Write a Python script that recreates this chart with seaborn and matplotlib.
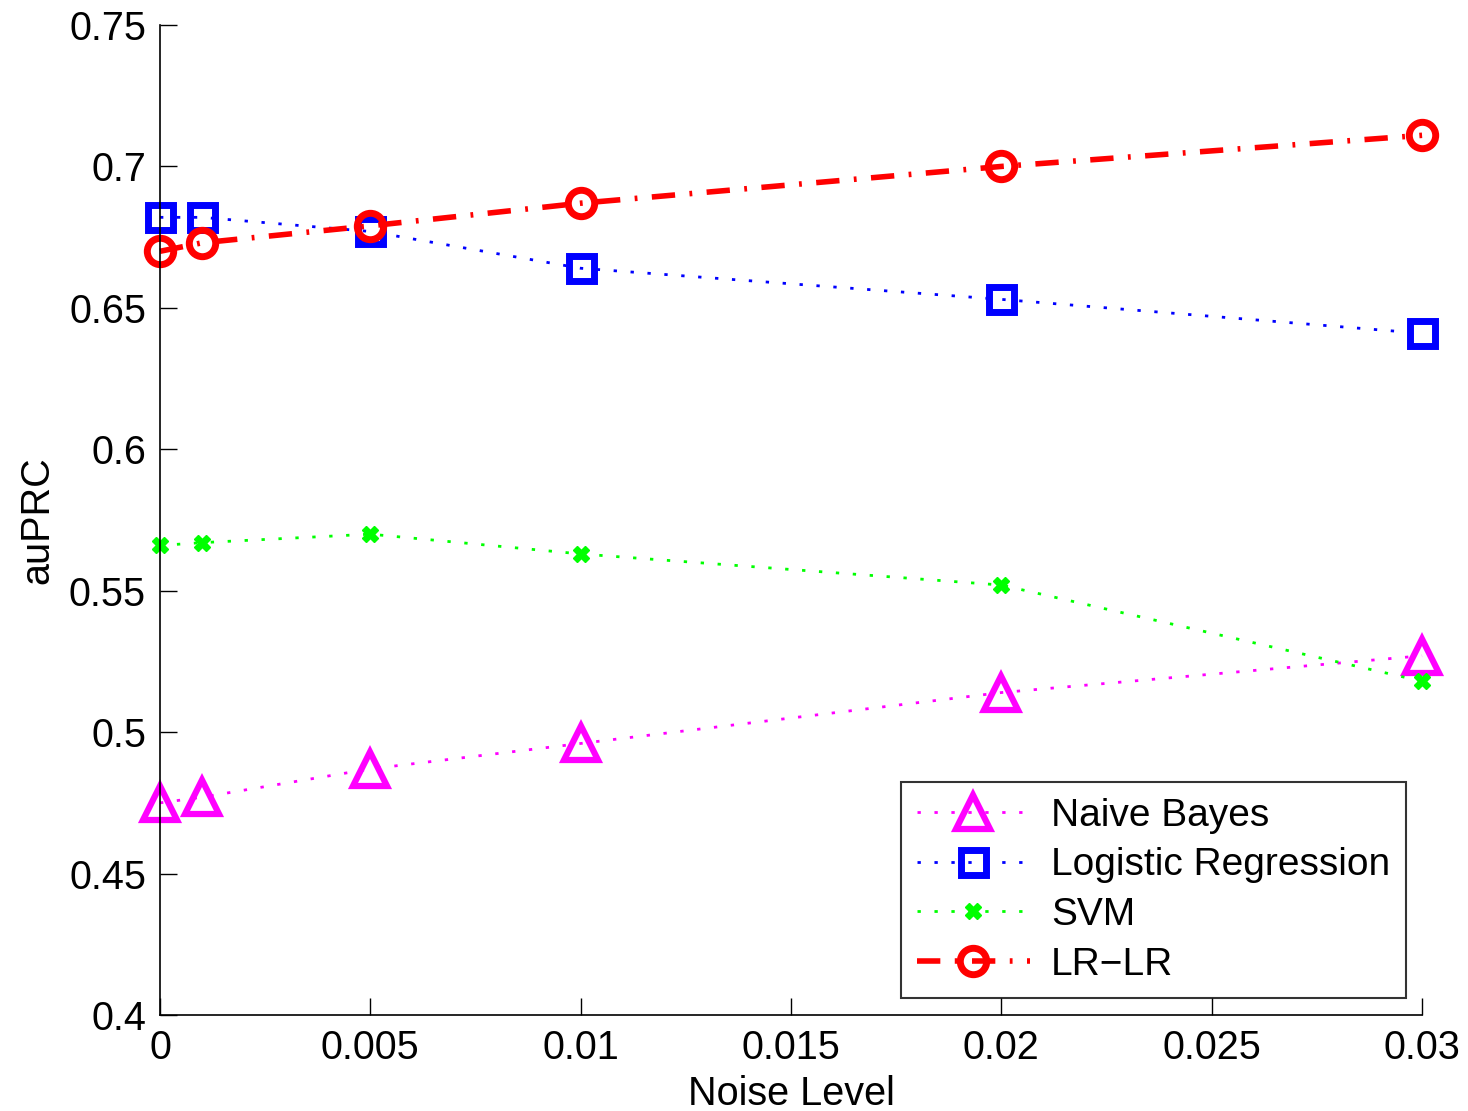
import matplotlib
matplotlib.use("Agg")
import matplotlib.pyplot as plt
import seaborn as sns
import pandas as pd

noise = [0, 0.001, 0.005, 0.01, 0.02, 0.03]
naive_bayes = [0.475, 0.477, 0.487, 0.496, 0.514, 0.527]
logistic_reg = [0.682, 0.682, 0.677, 0.664, 0.653, 0.641]
svm = [0.566, 0.567, 0.570, 0.563, 0.552, 0.518]
lr_lr = [0.670, 0.673, 0.679, 0.687, 0.700, 0.711]

xticks = [0, 0.005, 0.01, 0.015, 0.02, 0.025, 0.03]
xticklabels = ["0", "0.005", "0.01", "0.015", "0.02", "0.025", "0.03"]
yticks = [0.4, 0.45, 0.5, 0.55, 0.6, 0.65, 0.7, 0.75]
yticklabels = ["0.4", "0.45", "0.5", "0.55", "0.6", "0.65", "0.7", "0.75"]

sns.set_theme(style="white")
plt.rcParams['font.family'] = ['Liberation Sans', 'DejaVu Sans']
plt.rcParams['text.color'] = 'black'
plt.rcParams['axes.labelcolor'] = 'black'

fig = plt.figure(figsize=(14.68, 11.11), dpi=100)
ax = fig.add_axes([0.109, 0.0864, 0.8597, 0.8911])

df = pd.DataFrame({"x": noise, "nb": naive_bayes, "lr": logistic_reg,
                   "svm": svm, "lrlr": lr_lr})

dot = (0, (1.2, 4.9))
common = dict(ax=ax, clip_on=False)
sns.lineplot(data=df, x="x", y="nb", color=(1, 0, 1), linestyle=dot,
             linewidth=2, marker="^", markersize=24, mfc="none",
             mec=(1, 0, 1), mew=4.5, label="Naive Bayes", **common)
sns.lineplot(data=df, x="x", y="lr", color=(0, 0, 1), linestyle=dot,
             linewidth=2, marker="s", markersize=18, mfc="none",
             mec=(0, 0, 1), mew=5, label="Logistic Regression", **common)
sns.lineplot(data=df, x="x", y="svm", color=(0, 1, 0), linestyle=dot,
             linewidth=2, marker="X", markersize=11, mfc=(0, 1, 0),
             mec=(0, 1, 0), mew=1, label="SVM", **common)
sns.lineplot(data=df, x="x", y="lrlr", color=(1, 0, 0),
             linestyle=(0, (4.2, 2.6, 0.5, 2.6)), linewidth=4,
             marker="o", markersize=19, mfc="none", mec=(1, 0, 0), mew=5,
             label="LR\u2212LR", **common)

ax.set_xlim(0, 0.03)
ax.set_ylim(0.4, 0.75)
ax.set_xticks(xticks)
ax.set_xticklabels(xticklabels)
ax.set_yticks(yticks)
ax.set_yticklabels(yticklabels)
ax.set_xlabel("Noise Level", fontsize=28.5, labelpad=6, color="black")
ax.set_ylabel("auPRC", fontsize=28.5, labelpad=9, color="black")
ax.tick_params(direction="in", length=12, width=1.0, labelsize=28.5,
               colors="black", pad=10, left=True, bottom=True)
for s in ["top", "right"]:
    ax.spines[s].set_visible(False)
for s in ["left", "bottom"]:
    ax.spines[s].set_color("black")
    ax.spines[s].set_linewidth(1.2)
ax.grid(False)

leg = ax.legend(loc="lower right", bbox_to_anchor=(0.987, 0.017),
                fontsize=28, frameon=True, fancybox=False,
                edgecolor="black", handlelength=2.9, borderpad=0.4,
                labelspacing=0.35, handletextpad=0.55, borderaxespad=0.0)
leg.get_frame().set_linewidth(1.5)
for t in leg.get_texts():
    t.set_color("black")

fig.savefig("out.png", dpi=100, facecolor="white")
